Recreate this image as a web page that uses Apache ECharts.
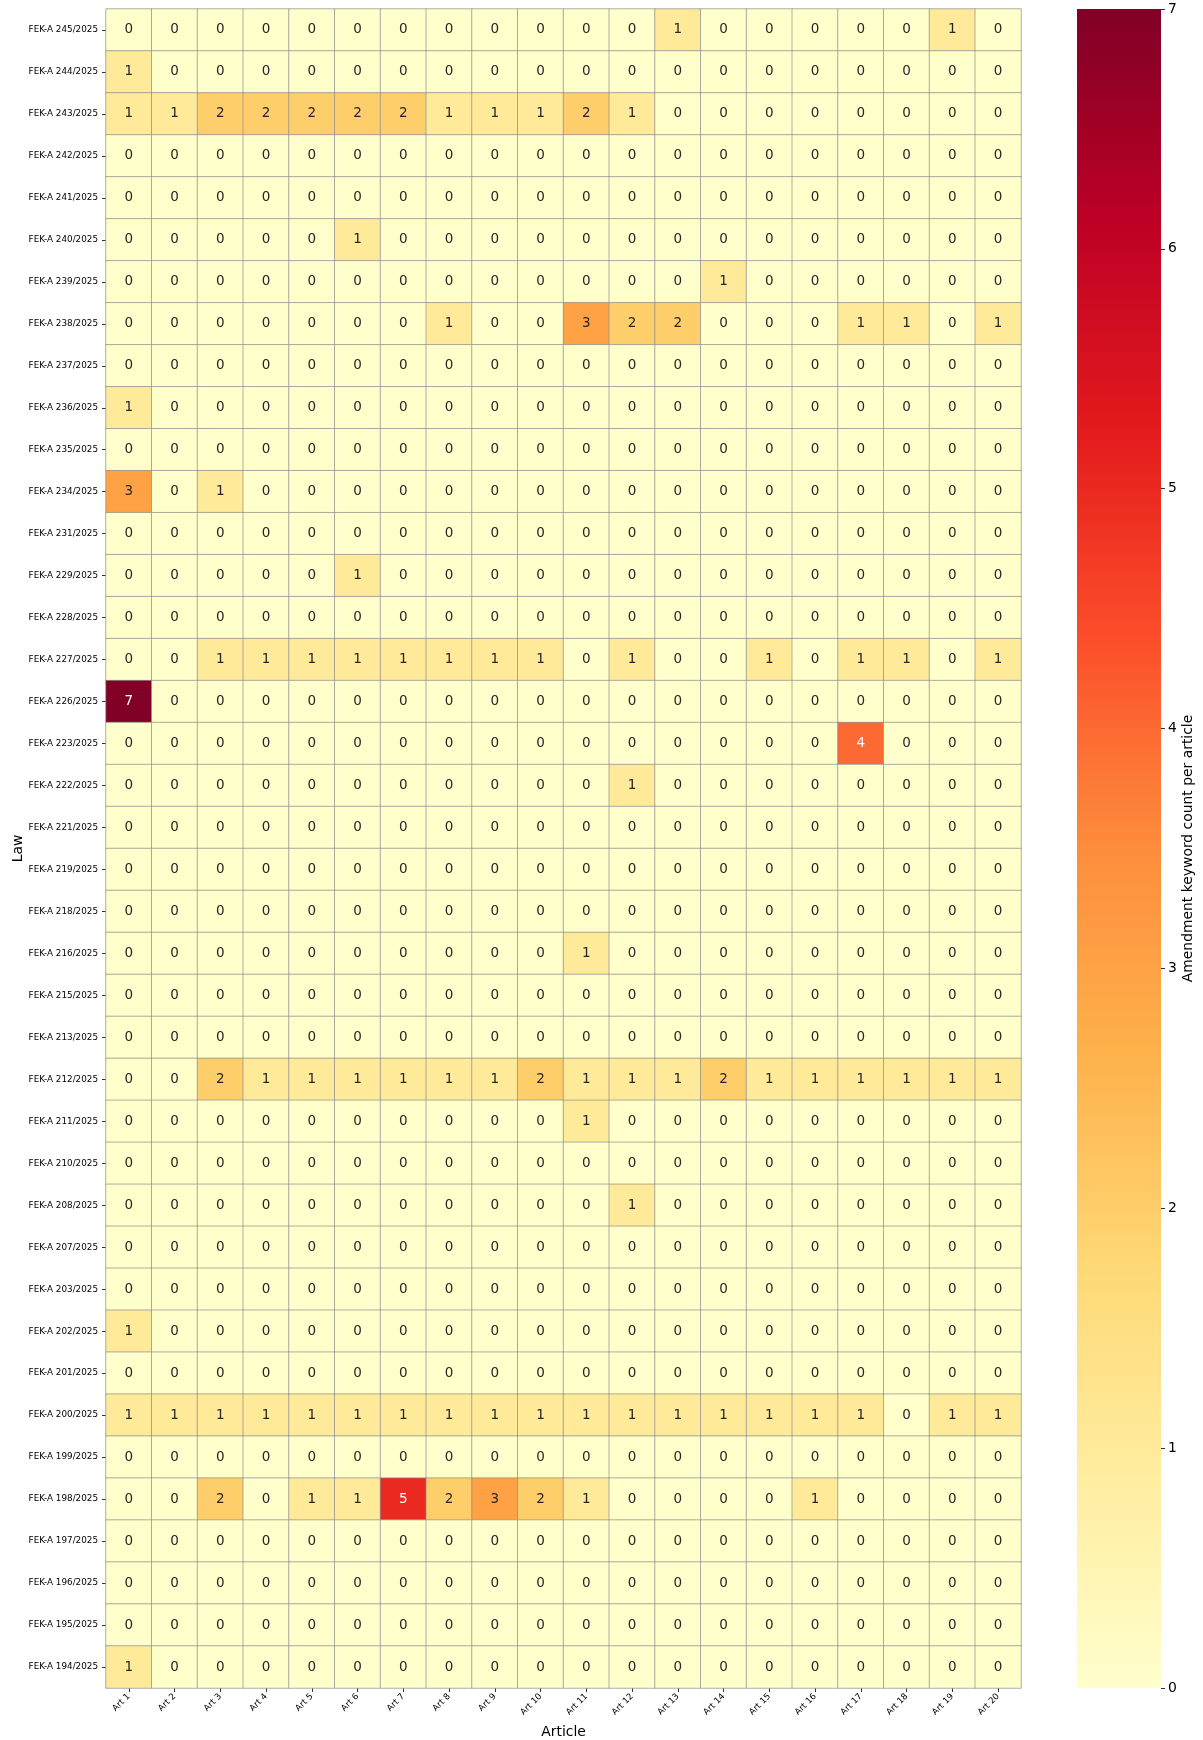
<!DOCTYPE html>
<html>
<head>
<meta charset="utf-8">
<script src="https://cdn.jsdelivr.net/npm/echarts@6/dist/echarts.min.js"></script>
<style>html,body{margin:0;padding:0;background:#fff}#c{width:1203px;height:1740px}</style>
</head>
<body>
<div id="c"></div>
<script>
const articles = ["Art 1","Art 2","Art 3","Art 4","Art 5","Art 6","Art 7","Art 8","Art 9","Art 10","Art 11","Art 12","Art 13","Art 14","Art 15","Art 16","Art 17","Art 18","Art 19","Art 20"];
const laws = ["FEK-A 245/2025","FEK-A 244/2025","FEK-A 243/2025","FEK-A 242/2025","FEK-A 241/2025","FEK-A 240/2025","FEK-A 239/2025","FEK-A 238/2025","FEK-A 237/2025","FEK-A 236/2025","FEK-A 235/2025","FEK-A 234/2025","FEK-A 231/2025","FEK-A 229/2025","FEK-A 228/2025","FEK-A 227/2025","FEK-A 226/2025","FEK-A 223/2025","FEK-A 222/2025","FEK-A 221/2025","FEK-A 219/2025","FEK-A 218/2025","FEK-A 216/2025","FEK-A 215/2025","FEK-A 213/2025","FEK-A 212/2025","FEK-A 211/2025","FEK-A 210/2025","FEK-A 208/2025","FEK-A 207/2025","FEK-A 203/2025","FEK-A 202/2025","FEK-A 201/2025","FEK-A 200/2025","FEK-A 199/2025","FEK-A 198/2025","FEK-A 197/2025","FEK-A 196/2025","FEK-A 195/2025","FEK-A 194/2025"];
const counts = [
[0,0,0,0,0,0,0,0,0,0,0,0,1,0,0,0,0,0,1,0],
[1,0,0,0,0,0,0,0,0,0,0,0,0,0,0,0,0,0,0,0],
[1,1,2,2,2,2,2,1,1,1,2,1,0,0,0,0,0,0,0,0],
[0,0,0,0,0,0,0,0,0,0,0,0,0,0,0,0,0,0,0,0],
[0,0,0,0,0,0,0,0,0,0,0,0,0,0,0,0,0,0,0,0],
[0,0,0,0,0,1,0,0,0,0,0,0,0,0,0,0,0,0,0,0],
[0,0,0,0,0,0,0,0,0,0,0,0,0,1,0,0,0,0,0,0],
[0,0,0,0,0,0,0,1,0,0,3,2,2,0,0,0,1,1,0,1],
[0,0,0,0,0,0,0,0,0,0,0,0,0,0,0,0,0,0,0,0],
[1,0,0,0,0,0,0,0,0,0,0,0,0,0,0,0,0,0,0,0],
[0,0,0,0,0,0,0,0,0,0,0,0,0,0,0,0,0,0,0,0],
[3,0,1,0,0,0,0,0,0,0,0,0,0,0,0,0,0,0,0,0],
[0,0,0,0,0,0,0,0,0,0,0,0,0,0,0,0,0,0,0,0],
[0,0,0,0,0,1,0,0,0,0,0,0,0,0,0,0,0,0,0,0],
[0,0,0,0,0,0,0,0,0,0,0,0,0,0,0,0,0,0,0,0],
[0,0,1,1,1,1,1,1,1,1,0,1,0,0,1,0,1,1,0,1],
[7,0,0,0,0,0,0,0,0,0,0,0,0,0,0,0,0,0,0,0],
[0,0,0,0,0,0,0,0,0,0,0,0,0,0,0,0,4,0,0,0],
[0,0,0,0,0,0,0,0,0,0,0,1,0,0,0,0,0,0,0,0],
[0,0,0,0,0,0,0,0,0,0,0,0,0,0,0,0,0,0,0,0],
[0,0,0,0,0,0,0,0,0,0,0,0,0,0,0,0,0,0,0,0],
[0,0,0,0,0,0,0,0,0,0,0,0,0,0,0,0,0,0,0,0],
[0,0,0,0,0,0,0,0,0,0,1,0,0,0,0,0,0,0,0,0],
[0,0,0,0,0,0,0,0,0,0,0,0,0,0,0,0,0,0,0,0],
[0,0,0,0,0,0,0,0,0,0,0,0,0,0,0,0,0,0,0,0],
[0,0,2,1,1,1,1,1,1,2,1,1,1,2,1,1,1,1,1,1],
[0,0,0,0,0,0,0,0,0,0,1,0,0,0,0,0,0,0,0,0],
[0,0,0,0,0,0,0,0,0,0,0,0,0,0,0,0,0,0,0,0],
[0,0,0,0,0,0,0,0,0,0,0,1,0,0,0,0,0,0,0,0],
[0,0,0,0,0,0,0,0,0,0,0,0,0,0,0,0,0,0,0,0],
[0,0,0,0,0,0,0,0,0,0,0,0,0,0,0,0,0,0,0,0],
[1,0,0,0,0,0,0,0,0,0,0,0,0,0,0,0,0,0,0,0],
[0,0,0,0,0,0,0,0,0,0,0,0,0,0,0,0,0,0,0,0],
[1,1,1,1,1,1,1,1,1,1,1,1,1,1,1,1,1,0,1,1],
[0,0,0,0,0,0,0,0,0,0,0,0,0,0,0,0,0,0,0,0],
[0,0,2,0,1,1,5,2,3,2,1,0,0,0,0,1,0,0,0,0],
[0,0,0,0,0,0,0,0,0,0,0,0,0,0,0,0,0,0,0,0],
[0,0,0,0,0,0,0,0,0,0,0,0,0,0,0,0,0,0,0,0],
[0,0,0,0,0,0,0,0,0,0,0,0,0,0,0,0,0,0,0,0],
[1,0,0,0,0,0,0,0,0,0,0,0,0,0,0,0,0,0,0,0]
];
const colorbarTicks = [0,1,2,3,4,5,6,7];
const ylOrRd = ['#ffffcc','#ffeda0','#fed976','#feb24c','#fd8d3c','#fc4e2a','#e31a1c','#bd0026','#800026'];

const font = 'DejaVu Sans';
const data = [];
counts.forEach((row, r) => row.forEach((v, c) => {
  data.push({value: [c, r, v], label: {color: v >= 4 ? '#ffffff' : '#262626'}});
}));

const L = 106, T = 9, W = 915, H = 1679;
const CBL = 1077, CBW = 84;
const chart = echarts.init(document.getElementById('c'));
chart.setOption({
  animation: false,
  textStyle: {fontFamily: font},
  grid: [
    {left: L, top: T, width: W, height: H, outerBoundsMode: 'none', containLabel: false},
    {left: CBL, top: T, width: CBW, height: H, outerBoundsMode: 'none', containLabel: false}
  ],
  xAxis: [
    {type: 'category', data: articles, gridIndex: 0,
     name: 'Article', nameLocation: 'middle', nameGap: 37, nameMoveOverlap: false,
     nameTextStyle: {fontSize: 13.9, color: '#000', fontFamily: font},
     axisLine: {show: false}, axisTick: {show: true, alignWithLabel: true, length: 4, lineStyle: {color: '#333'}},
     axisLabel: {rotate: 45, fontSize: 8.6, color: '#000', margin: 7, fontFamily: font, interval: 0},
     splitLine: {show: false}},
    {type: 'category', data: [''], gridIndex: 1, show: false}
  ],
  yAxis: [
    {type: 'category', data: laws, inverse: true, gridIndex: 0,
     name: 'Law', nameLocation: 'middle', nameGap: 81, nameRotate: 90, nameMoveOverlap: false,
     nameTextStyle: {fontSize: 13.9, color: '#000', fontFamily: font},
     axisLine: {show: false}, axisTick: {show: true, alignWithLabel: true, length: 4, lineStyle: {color: '#333'}},
     axisLabel: {fontSize: 8.8, color: '#000', margin: 8, fontFamily: font, interval: 0},
     splitLine: {show: false}},
    {type: 'value', gridIndex: 1, position: 'right', min: 0, max: 7, interval: 1,
     name: 'Amendment keyword count per article', nameLocation: 'middle', nameGap: 20, nameRotate: 90,
     nameTextStyle: {fontSize: 13.9, color: '#000', fontFamily: font},
     axisLine: {show: false, onZero: false}, axisTick: {show: true, length: 4, lineStyle: {color: '#333'}},
     axisLabel: {fontSize: 13.9, color: '#000', margin: 7, fontFamily: font,
       formatter: v => colorbarTicks.includes(v) ? String(v) : ''},
     splitLine: {show: false}}
  ],
  visualMap: {
    type: 'continuous', min: 0, max: 7, seriesIndex: 0, show: false,
    inRange: {color: ylOrRd}
  },
  graphic: [{
    type: 'rect', left: CBL, top: T, silent: true, z: 0,
    shape: {width: CBW, height: H},
    style: {fill: new echarts.graphic.LinearGradient(0, 1, 0, 0,
      ylOrRd.map((c, i) => ({offset: i / (ylOrRd.length - 1), color: c})))}
  }],
  series: [
    {type: 'heatmap', xAxisIndex: 0, yAxisIndex: 0, data: data,
     itemStyle: {borderColor: '#8c8c8c', borderWidth: 0.7},
     label: {show: true, fontSize: 13.5, fontFamily: font, formatter: p => String(p.value[2])},
     emphasis: {disabled: true}},
    {type: 'line', xAxisIndex: 1, yAxisIndex: 1, data: [], silent: true}
  ]
});
</script>
</body>
</html>
